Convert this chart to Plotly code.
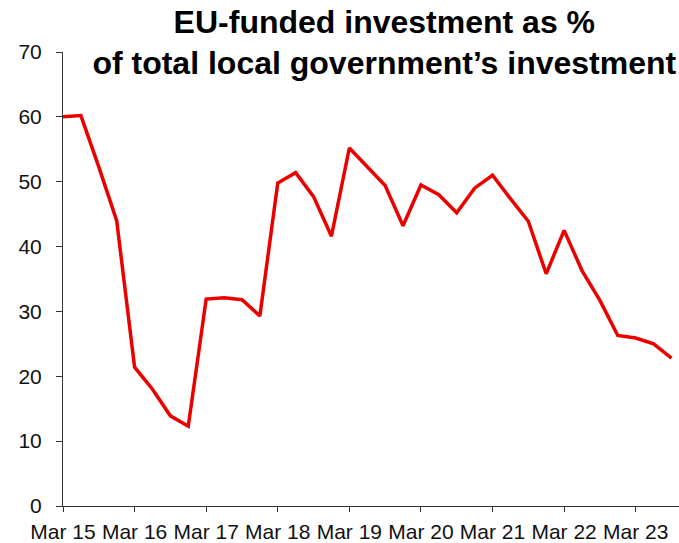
import plotly.graph_objects as go

# Quarterly periods, Mar 2015 to Sep 2023
quarters = [
    "Mar 15", "Jun 15", "Sep 15", "Dec 15",
    "Mar 16", "Jun 16", "Sep 16", "Dec 16",
    "Mar 17", "Jun 17", "Sep 17", "Dec 17",
    "Mar 18", "Jun 18", "Sep 18", "Dec 18",
    "Mar 19", "Jun 19", "Sep 19", "Dec 19",
    "Mar 20", "Jun 20", "Sep 20", "Dec 20",
    "Mar 21", "Jun 21", "Sep 21", "Dec 21",
    "Mar 22", "Jun 22", "Sep 22", "Dec 22",
    "Mar 23", "Jun 23", "Sep 23",
]

# EU-funded share of local government investment, %
eu_share = [
    60.0, 60.2, 52.3, 44.0,
    21.4, 18.0, 13.9, 12.3,
    31.9, 32.1, 31.8, 29.3,
    49.8, 51.4, 47.7, 41.6,
    55.2, 52.3, 49.4, 43.2,
    49.5, 48.0, 45.2, 49.0,
    51.0, 47.4, 43.9, 35.8,
    42.5, 36.3, 31.7, 26.3,
    25.9, 25.0, 22.8,
]

tick_labels = ["Mar 15", "Mar 16", "Mar 17", "Mar 18", "Mar 19",
               "Mar 20", "Mar 21", "Mar 22", "Mar 23"]
y_ticks = [0, 10, 20, 30, 40, 50, 60, 70]

FONT = "Arial, Liberation Sans, sans-serif"

fig = go.Figure(
    go.Scatter(
        x=quarters,
        y=eu_share,
        mode="lines",
        line=dict(color="rgb(235,0,0)", width=3.5),
        hoverinfo="x+y",
    )
)

fig.update_layout(
    width=679,
    height=543,
    margin=dict(l=63, r=0, t=52, b=37, pad=0),
    paper_bgcolor="white",
    plot_bgcolor="white",
    showlegend=False,
    font=dict(family=FONT, size=21, color="#111111"),
    title=dict(
        text="EU-funded investment as %<br>of total local government’s investment",
        font=dict(family=FONT, size=32, color="#000000", weight=700),
        x=0.566,
        xanchor="center",
        xref="container",
        y=0.94,
        yanchor="top",
        yref="container",
    ),
)

fig.update_xaxes(
    type="category",
    range=[0, 34.42],
    tickmode="array",
    tickvals=tick_labels,
    ticktext=tick_labels,
    ticks="outside",
    ticklen=5,
    tickwidth=1,
    tickcolor="#333333",
    ticklabelstandoff=2,
    showline=True,
    linecolor="#333333",
    linewidth=1,
    showgrid=False,
    zeroline=False,
    automargin=False,
    tickfont=dict(family=FONT, size=21, color="#111111"),
)

fig.update_yaxes(
    range=[0, 70],
    tickmode="array",
    tickvals=y_ticks,
    ticks="outside",
    ticklen=6,
    tickwidth=1,
    tickcolor="#333333",
    ticklabelstandoff=10,
    showline=True,
    linecolor="#333333",
    linewidth=1,
    showgrid=False,
    zeroline=False,
    automargin=False,
    tickfont=dict(family=FONT, size=21, color="#111111"),
)

fig.write_html("out.html")
